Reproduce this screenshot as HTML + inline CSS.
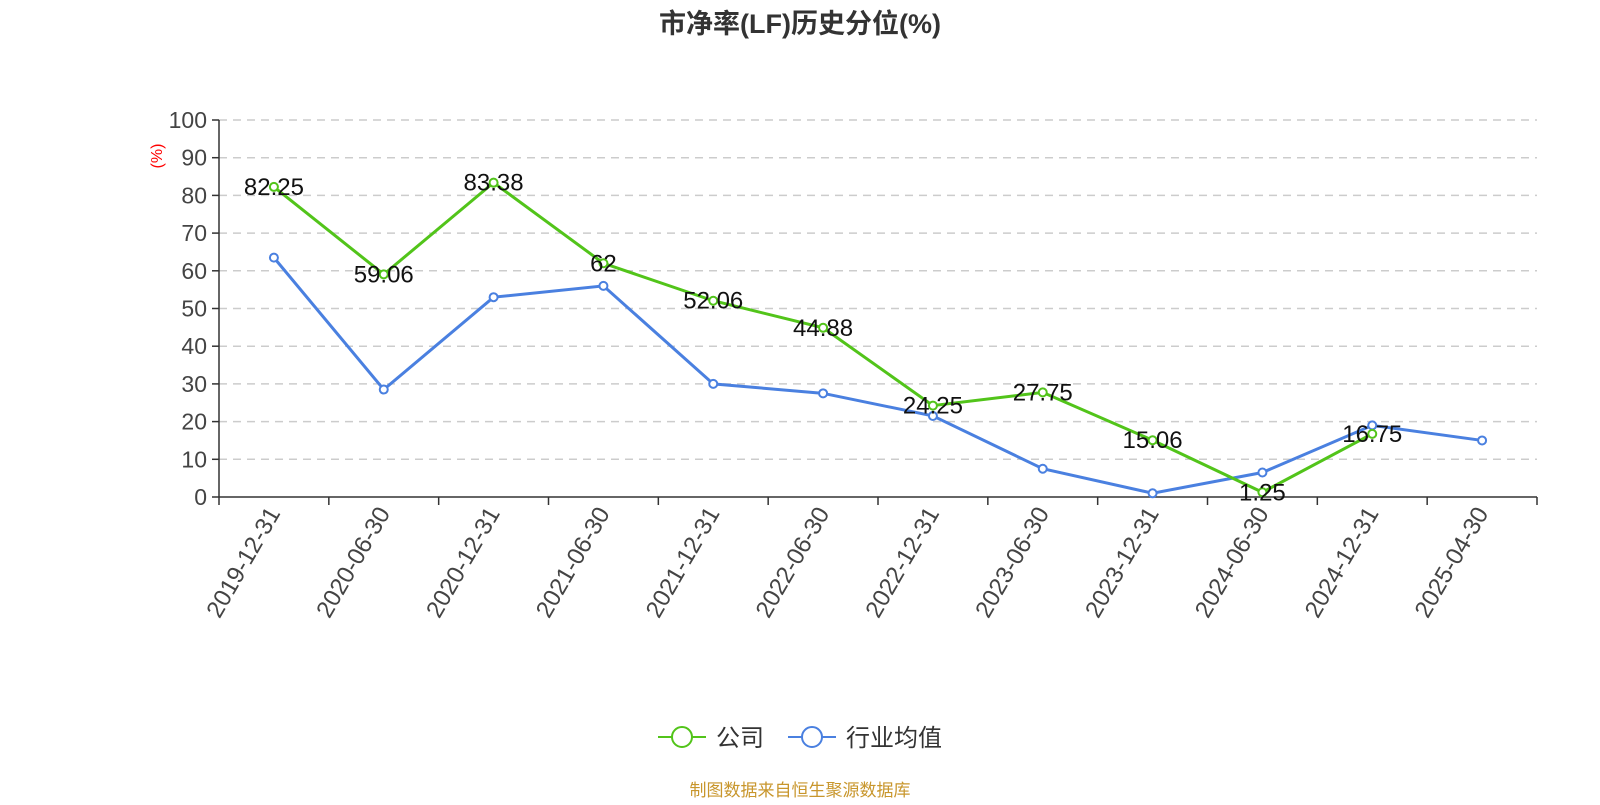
<!DOCTYPE html>
<html><head><meta charset="utf-8"><style>
body{margin:0;background:#fff;}
svg text{font-family:"Liberation Sans","Noto Sans CJK SC",sans-serif;}
</style></head><body>
<svg width="1600" height="800" xmlns="http://www.w3.org/2000/svg">
<text x="800" y="33" text-anchor="middle" font-size="27" font-weight="bold" fill="#333">市净率(LF)历史分位(%)</text>
<text x="162" y="156" font-size="16" fill="red" transform="rotate(-90 162 156)" text-anchor="middle">(%)</text>
<g id="grid"></g><g id="axes"></g><g id="series"></g>
<g>
<g><line x1="658" y1="737" x2="706" y2="737" stroke="#52c41a" stroke-width="2"/><circle cx="682" cy="737" r="10" fill="#fff" stroke="#52c41a" stroke-width="2"/><text x="716" y="746" font-size="24" fill="#333">公司</text></g>
<g><line x1="788" y1="737" x2="836" y2="737" stroke="#4a80e0" stroke-width="2"/><circle cx="812" cy="737" r="10" fill="#fff" stroke="#4a80e0" stroke-width="2"/><text x="846" y="746" font-size="24" fill="#333">行业均值</text></g>
</g>
<text x="800" y="796" text-anchor="middle" font-size="17" fill="#c8962c">制图数据来自恒生聚源数据库</text>
</svg>
<script>
const categories=["2019-12-31","2020-06-30","2020-12-31","2021-06-30","2021-12-31","2022-06-30","2022-12-31","2023-06-30","2023-12-31","2024-06-30","2024-12-31","2025-04-30"];
const companyValues=[82.25,59.06,83.38,62,52.06,44.88,24.25,27.75,15.06,1.25,16.75,null];
const industryValues=[63.5,28.5,53,56,30,27.5,21.5,7.5,1,6.5,19,15];
const yTicks=[0,10,20,30,40,50,60,70,80,90,100];
const NS="http://www.w3.org/2000/svg";
const X0=219,X1=1537,Y0=497,Y1=120;
const bw=(X1-X0)/categories.length;
function xs(i){return X0+bw*(i+0.5);}
function ys(v){return Y0-(v/100)*(Y0-Y1);}
function mk(tag,attrs,parent){const e=document.createElementNS(NS,tag);for(const k in attrs)e.setAttribute(k,attrs[k]);parent.appendChild(e);return e;}
const grid=document.getElementById('grid'),axes=document.getElementById('axes'),series=document.getElementById('series');
yTicks.forEach(t=>{const y=ys(t);
 if(t>0){const l=mk('line',{x1:X0,x2:X1,y1:y,y2:y,stroke:'#ccc','stroke-width':1.5,'stroke-dasharray':'8,6'},grid);
 
 }
 mk('line',{x1:X0-7,x2:X0,y1:y,y2:y,stroke:'#333','stroke-width':1.5},axes);
 const tx=mk('text',{x:X0-12,y:y+8,'text-anchor':'end','font-size':23,fill:'#444'},axes);tx.textContent=t;
 
 
});
mk('line',{x1:X0,x2:X0,y1:Y1,y2:Y0,stroke:'#333','stroke-width':1.5},axes);
mk('line',{x1:X0,x2:X1,y1:Y0,y2:Y0,stroke:'#333','stroke-width':1.5},axes);
for(let i=0;i<=categories.length;i++){const x=X0+bw*i;mk('line',{x1:x,x2:x,y1:Y0,y2:Y0+8,stroke:'#333','stroke-width':1.5},axes);}
categories.forEach((c,i)=>{const x=xs(i)+7,y=Y0+16;
 const t=mk('text',{x:x,y:y,'text-anchor':'end','font-size':24,fill:'#444',transform:`rotate(-60 ${x} ${y})`},axes);t.textContent=c;
 
 
});
function draw(vals,color,name,labels){
 const pts=vals.map((v,i)=>v==null?null:[xs(i),ys(v)]).filter(p=>p);
 const pl=mk('polyline',{points:pts.map(p=>p.join(',')).join(' '),fill:'none',stroke:color,'stroke-width':3},series);
 
 
 vals.forEach((v,i)=>{if(v==null)return;
  const c=mk('circle',{cx:xs(i),cy:ys(v),r:4,fill:'#fff',stroke:color,'stroke-width':2},series);
  
  
  if(labels){const t=mk('text',{x:xs(i),y:ys(v)+8,'text-anchor':'middle','font-size':24,fill:'#111'},series);t.textContent=v;
   
   }
 });
}
draw(industryValues,'#4a80e0','industry',false);
draw(companyValues,'#52c41a','company',true);
</script>
</body></html>
